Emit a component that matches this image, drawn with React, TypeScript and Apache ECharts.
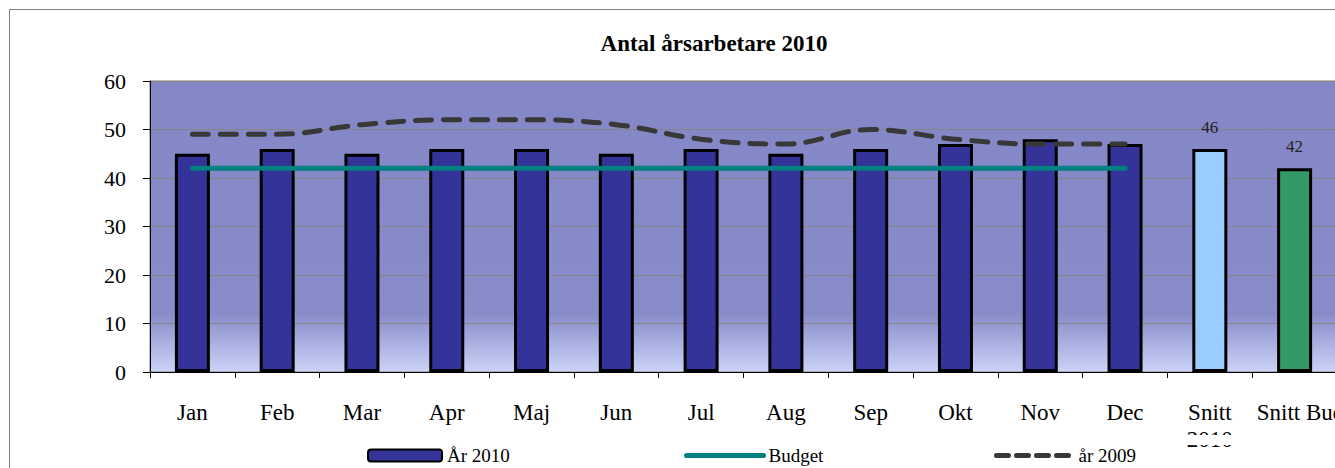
import React, { useEffect, useRef } from "react";
import * as echarts from "echarts";

const categories = ["Jan", "Feb", "Mar", "Apr", "Maj", "Jun", "Jul", "Aug", "Sep", "Okt", "Nov", "Dec", "Snitt 2010", "Snitt Budget"];
const ar2010 = [45, 46, 45, 46, 46, 45, 46, 45, 46, 47, 48, 47, 46, 42];
const budget = [42, 42, 42, 42, 42, 42, 42, 42, 42, 42, 42, 42];
const ar2009 = [49, 49, 51, 52, 52, 51, 48, 47, 50, 48, 47, 47];
const barColors = ["#333399", "#333399", "#333399", "#333399", "#333399", "#333399", "#333399", "#333399", "#333399", "#333399", "#333399", "#333399", "#99CCFF", "#339966"];
const labelledBars = [12, 13];
const yTicks = { min: 0, max: 60, interval: 10 };

const FONT = "Liberation Serif";

export default function App() {
  const ref = useRef<HTMLDivElement>(null);
  useEffect(() => {
    document.body.style.margin = "0";
    const chart = echarts.init(ref.current!, undefined, { renderer: "svg" });
    const legendText = { fontFamily: FONT, fontSize: 19, color: "#000" };
    const option: any = {
      animation: false,
      backgroundColor: "#ffffff",
      title: {
        text: "Antal årsarbetare 2010",
        left: 709,
        top: 27,
        textAlign: "center",
        textStyle: { fontFamily: FONT, fontSize: 23, fontWeight: "bold", color: "#000" },
      },
      graphic: [
        {
          type: "rect",
          shape: { x: 9.5, y: 9.5, width: 1400, height: 500 },
          style: { fill: "none", stroke: "#7f7f7f", lineWidth: 1 },
          z: 100,
        },
        {
          type: "rect",
          shape: { x: 1170, y: 435, width: 80, height: 10 },
          style: { fill: "#ffffff" },
          z: 90,
        },
      ],
      grid: {
        left: 150,
        top: 81,
        width: 1187,
        height: 291,
        outerBoundsMode: "none",
        containLabel: false,
        show: true,
        borderColor: "#808080",
        borderWidth: 1,
        backgroundColor: new echarts.graphic.LinearGradient(0, 0, 0, 1, [
          { offset: 0, color: "#8487C6" },
          { offset: 0.8, color: "#888CC9" },
          { offset: 1, color: "#CBD3F7" },
        ]),
      },
      legend: [
        {
          data: ["År 2010"],
          left: 367,
          top: 446,
          padding: 0,
          itemWidth: 74,
          itemHeight: 12,
          textStyle: legendText,
        },
        {
          data: ["Budget"],
          left: 684,
          top: 446,
          padding: 0,
          itemWidth: 77,
          itemHeight: 12,
          itemStyle: { opacity: 0 },
          lineStyle: { width: 5, cap: "round" },
          textStyle: legendText,
        },
        {
          data: ["år 2009"],
          left: 994,
          top: 446,
          padding: 0,
          itemWidth: 77,
          itemHeight: 12,
          itemStyle: { opacity: 0 },
          lineStyle: { width: 5, cap: "round", type: [12, 8] },
          textStyle: legendText,
        },
      ],
      xAxis: {
        type: "category",
        data: categories,
        axisLine: { lineStyle: { color: "#000", width: 1 } },
        axisTick: { show: true, length: 6, lineStyle: { color: "#000" } },
        axisLabel: {
          interval: 0,
          margin: 27,
          fontFamily: FONT,
          fontSize: 23,
          color: "#000",
          lineHeight: 27,
          formatter: (v: string) =>
            v === "Snitt 2010" ? "Snitt\n2010" : v === "Snitt Budget" ? "{p| }{s|" + v + "}" : v,
          rich: {
            p: { fontFamily: FONT, fontSize: 23, width: 40 },
            s: { fontFamily: FONT, fontSize: 23, color: "#000" },
          },
        },
        splitLine: { show: false },
      },
      yAxis: {
        type: "value",
        min: yTicks.min,
        max: yTicks.max,
        interval: yTicks.interval,
        axisLine: { show: true, lineStyle: { color: "#000", width: 1 } },
        axisTick: { show: true, length: 7, lineStyle: { color: "#000" } },
        axisLabel: { fontFamily: FONT, fontSize: 22, color: "#000", margin: 24 },
        splitLine: { lineStyle: { color: "#858585", width: 1 } },
      },
      series: [
        {
          name: "År 2010",
          type: "bar",
          barWidth: 35,
          itemStyle: { color: "#333399", borderColor: "#000", borderWidth: 3 },
          data: ar2010.map((v, i) => ({
            value: v,
            itemStyle: { color: barColors[i] },
            label: labelledBars.includes(i)
              ? { show: true, position: "top", distance: 13, fontFamily: FONT, fontSize: 17, color: "#222" }
              : { show: false },
          })),
          z: 2,
        },
        {
          name: "Budget",
          type: "line",
          data: budget,
          symbol: "none",
          lineStyle: { color: "#008080", width: 5, cap: "round" },
          itemStyle: { color: "#008080" },
          z: 3,
        },
        {
          name: "år 2009",
          type: "line",
          data: ar2009,
          symbol: "none",
          smooth: 0.4,
          lineStyle: { color: "#383838", width: 5, type: [16, 12], cap: "round" },
          itemStyle: { color: "#383838" },
          z: 4,
        },
      ],
    };
    chart.setOption(option);
    return () => chart.dispose();
  }, []);
  return <div ref={ref} style={{ width: 1335, height: 468 }} />;
}
